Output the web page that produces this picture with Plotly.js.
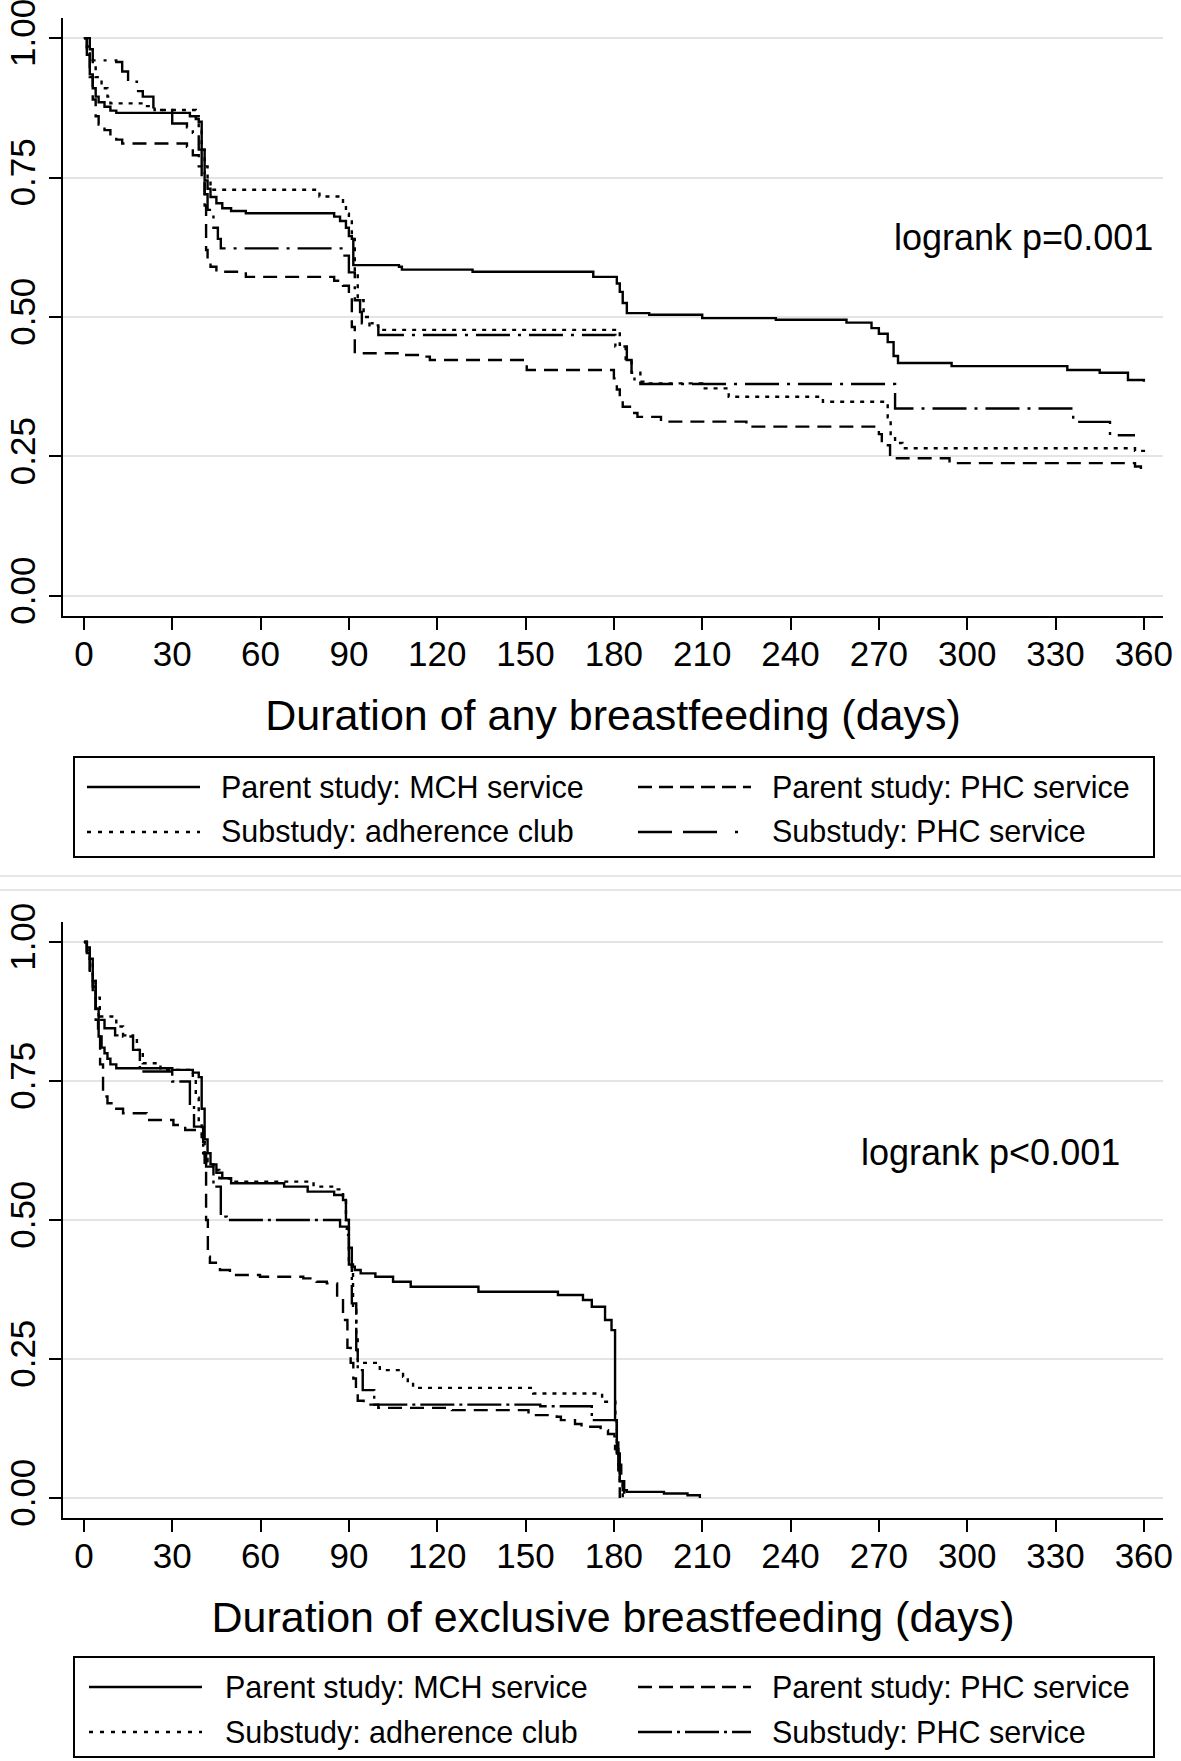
<!DOCTYPE html>
<html><head><meta charset="utf-8">
<script src="https://cdn.plot.ly/plotly-3.0.1.min.js"></script>
<style>html,body{margin:0;padding:0;background:#fff}#chart{width:1181px;height:1761px}</style>
</head><body><div id="chart"></div>
<script>
// ---------- data ----------
const seriesNames = ["Parent study: MCH service","Parent study: PHC service","Substudy: adherence club","Substudy: PHC service"];
const xTicks = [0,30,60,90,120,150,180,210,240,270,300,330,360];
const yTicks = [0,0.25,0.5,0.75,1];
const yTickText = ["0.00","0.25","0.50","0.75","1.00"];
const titleAny = "Duration of any breastfeeding (days)";
const titleExcl = "Duration of exclusive breastfeeding (days)";
const pAny = "logrank p=0.001";
const pExcl = "logrank p<0.001";

// Any breastfeeding
const anyMCH_t = [0,1,2,3,4,5,7,9,11,36,38,39,40,41,42,43,45,47,50,55,85,87,89,90,91,91.5,107,108,132,173,181,182,183,184.4,192,210,235,259,267.5,270,273,275,276.5,294.7,334,345,354.6,360];
const anyMCH_s = [1,0.97,0.935,0.91,0.895,0.885,0.877,0.87,0.866,0.86,0.855,0.85,0.80,0.745,0.73,0.715,0.704,0.695,0.69,0.686,0.68,0.672,0.66,0.645,0.64,0.593,0.59,0.585,0.581,0.572,0.56,0.545,0.525,0.507,0.504,0.498,0.495,0.49,0.48,0.47,0.455,0.43,0.4175,0.412,0.405,0.40,0.387,0.384];
const anyPPHC_t = [0,1,2,3,4,5,7,9,11,13,35,37,39,40,41,41.5,42,43,45,55,85,88,90,91,92,109,114,117.5,150.4,180,181,182,183,186,188,196,225,270,271,273.8,275.5,294,357,359,360];
const anyPPHC_s = [1,0.97,0.93,0.89,0.86,0.845,0.835,0.825,0.818,0.811,0.805,0.79,0.77,0.745,0.70,0.62,0.60,0.59,0.581,0.572,0.565,0.556,0.54,0.482,0.435,0.432,0.429,0.423,0.405,0.39,0.37,0.357,0.339,0.328,0.321,0.3125,0.3035,0.29,0.27,0.25,0.2467,0.238,0.232,0.226,0.222];
const anyAC_t = [0,1,2,3,4,6,8,9,20,24,38,39,40,41,42,43,44,80,88,89,90,91,92,93,95,97,100,182,184,186,189,190,210,219,251,273,274,275.5,278,357,360];
const anyAC_s = [1,0.985,0.965,0.95,0.93,0.91,0.895,0.883,0.878,0.871,0.86,0.84,0.80,0.77,0.745,0.735,0.728,0.716,0.70,0.685,0.676,0.64,0.58,0.53,0.50,0.485,0.477,0.45,0.42,0.40,0.384,0.381,0.372,0.357,0.348,0.32,0.29,0.274,0.2647,0.26,0.256];
const anySPHC_t = [0,2,3,11,13,15,18,20,23.6,30,35,37,39,40,41,42,44,45.5,46.5,88,90,92,93.8,94.4,100,180.5,184.4,186,187,189,275.5,336,348.5,357];
const anySPHC_s = [1,0.98,0.96,0.957,0.94,0.922,0.905,0.895,0.871,0.847,0.84,0.83,0.80,0.76,0.72,0.692,0.66,0.64,0.623,0.61,0.58,0.53,0.509,0.4887,0.4677,0.447,0.423,0.393,0.384,0.38,0.336,0.312,0.288,0.288];

// Exclusive breastfeeding
const exMCH_t = [0,1,2,3,4,5,6,7,8,9,11,30,37,39,40,41,42,43,45,47,50,68,76,85,88,89,90,91,92,94,99,105,111,134,161,169.5,172.5,177,179.2,180.4,181,182,183,184.4,197,205,209.2];
const exMCH_s = [1,0.99,0.97,0.93,0.88,0.83,0.81,0.80,0.79,0.78,0.773,0.77,0.765,0.757,0.70,0.645,0.62,0.60,0.585,0.575,0.566,0.56,0.551,0.545,0.536,0.50,0.45,0.416,0.41,0.404,0.398,0.389,0.38,0.371,0.365,0.356,0.344,0.32,0.302,0.14,0.08,0.03,0.014,0.011,0.008,0.005,0];
const exPPHC_t = [0,1,2,3,4,4.8,5.5,6.5,8,10,13.3,21.3,30.4,34.4,40,40.5,41,41.5,42.1,42.8,46.2,49.6,59.8,74.5,79,82.5,86,88,89.5,90.6,91.5,92.4,93,95,100,125,151,160.6,162,166.8,169,175.5,178,180.2,180.4,181.5,182.5,183.5];
const exPPHC_s = [1,0.98,0.94,0.90,0.86,0.83,0.78,0.722,0.71,0.70,0.692,0.68,0.671,0.662,0.655,0.64,0.603,0.50,0.434,0.423,0.41,0.401,0.398,0.395,0.389,0.386,0.36,0.32,0.27,0.243,0.215,0.194,0.175,0.168,0.162,0.158,0.149,0.146,0.14,0.133,0.128,0.122,0.115,0.104,0.088,0.06,0.03,0];
const exAC_t = [0,1,2,3,4,5.4,11,13.3,18,20,26,37,38,39,40,41,42,44,46,49.6,78,84.7,88,89,90,91.4,92.5,93,100.5,108.4,110,111.8,152.6,176,180.5,181,182,183];
const exAC_s = [1,0.985,0.96,0.93,0.9,0.866,0.848,0.83,0.806,0.782,0.77,0.755,0.72,0.68,0.64,0.61,0.60,0.59,0.575,0.569,0.56,0.555,0.54,0.50,0.42,0.338,0.29,0.243,0.23,0.218,0.205,0.198,0.188,0.173,0.15,0.08,0.03,0];
const exSPHC_t = [0,1,2,3,4,5,7,10.6,16.7,19,30,36,37.4,40.5,41.5,44,46.5,48.5,87,89.3,90,91,92.5,93,94.7,98.6,155,172.5,181,181.5,182];
const exSPHC_s = [1,0.98,0.95,0.92,0.88,0.86,0.845,0.832,0.806,0.767,0.749,0.703,0.668,0.62,0.596,0.56,0.506,0.50,0.488,0.473,0.42,0.35,0.266,0.23,0.194,0.168,0.165,0.14,0.10,0.05,0];

// ---------- styles ----------
const W = 1181, H = 1761;
const FONT = "Liberation Sans, Arial, Helvetica, sans-serif";
const LW = 2.4;
const dashTop = ["solid","14px,8px","4px,6px","34px,8px,3px,8px"];
const dashBot = ["solid","14px,8px","4px,6px","34px,5px,3px,5px"];
const legDashTop = ["solid","14px,7px","4px,7px","34px,11px,34px,18px,3px,200px"];
const legDashBot = ["solid","14px,7px","4px,7px","34px,5px,3px,5px"];
const P = x => x / W;
const Q = y => 1 - y / H;

function tr(t, s, name, dash, xa, ya) {
  return {type:"scatter", mode:"lines", x:t, y:s, name:name, xaxis:xa, yaxis:ya,
    line:{shape:"hv", color:"#000", width:LW, dash:dash}, showlegend:false, hoverinfo:"skip"};
}
const data = [
  tr(anyMCH_t, anyMCH_s, seriesNames[0], dashTop[0], "x", "y"),
  tr(anyPPHC_t, anyPPHC_s, seriesNames[1], dashTop[1], "x", "y"),
  tr(anyAC_t, anyAC_s, seriesNames[2], dashTop[2], "x", "y"),
  tr(anySPHC_t, anySPHC_s, seriesNames[3], dashTop[3], "x", "y"),
  tr(exMCH_t, exMCH_s, seriesNames[0], dashBot[0], "x2", "y2"),
  tr(exPPHC_t, exPPHC_s, seriesNames[1], dashBot[1], "x2", "y2"),
  tr(exAC_t, exAC_s, seriesNames[2], dashBot[2], "x2", "y2"),
  tr(exSPHC_t, exSPHC_s, seriesNames[3], dashBot[3], "x2", "y2")
];

function xAxis(title, anchor) {
  return {domain:[P(63), P(1163)], range:[-7.1, 366.5], anchor:anchor,
    tickmode:"array", tickvals:xTicks, ticktext:xTicks.map(String),
    ticks:"outside", ticklen:12, tickwidth:2, tickcolor:"#000", ticklabelstandoff:-6,
    showline:true, linewidth:2, linecolor:"#000", showgrid:false, zeroline:false,
    tickfont:{family:FONT, size:35, color:"#000"},
    title:{text:title, font:{family:FONT, size:43, color:"#000"}, standoff:28},
    fixedrange:true};
}
function yAxis(dom, anchor) {
  return {domain:dom, range:[-0.036, 1.036], anchor:anchor,
    tickmode:"array", tickvals:yTicks, ticktext:yTickText, tickangle:-90,
    ticklabeloverflow:"allow",
    ticks:"outside", ticklen:12, tickwidth:2, tickcolor:"#000",
    showline:true, linewidth:2, linecolor:"#000",
    showgrid:true, gridcolor:"#e4e4e4", gridwidth:2, zeroline:false,
    tickfont:{family:FONT, size:35, color:"#000"}, fixedrange:true};
}

const shapes = [];
const annotations = [];
// graph-region separator lines
[876, 890].forEach(y => shapes.push({type:"line", xref:"paper", yref:"paper", x0:0, x1:1, y0:Q(y), y1:Q(y), line:{color:"#e6e6e6", width:2}}));

function legend(top, bottom, rows, sx1, tx1, legDash) {
  shapes.push({type:"rect", xref:"paper", yref:"paper", x0:P(74), x1:P(1154), y0:Q(bottom), y1:Q(top), line:{color:"#000", width:2}, fillcolor:"rgba(0,0,0,0)"});
  const cells = [[0, sx1, tx1, rows[0]], [1, 638, 770, rows[0]], [2, sx1, tx1, rows[1]], [3, 638, 770, rows[1]]];
  cells.forEach(([i, sx, tx, ry]) => {
    shapes.push({type:"line", xref:"paper", yref:"paper", x0:P(sx), x1:P(sx + 113), y0:Q(ry), y1:Q(ry), line:{color:"#000", width:LW, dash:legDash[i]}});
    annotations.push({xref:"paper", yref:"paper", x:P(tx), y:Q(ry), xanchor:"left", yanchor:"middle", showarrow:false, text:seriesNames[i], font:{family:FONT, size:30.5, color:"#000"}});
  });
}
legend(757, 857, [787, 832], 87, 219, legDashTop);
legend(1657, 1757, [1687, 1732], 89, 223, legDashBot);

annotations.push({xref:"x", yref:"y", x:363.8, y:0.642, xanchor:"right", yanchor:"middle", showarrow:false, text:pAny, font:{family:FONT, size:36, color:"#000"}});
annotations.push({xref:"x2", yref:"y2", x:352.6, y:0.622, xanchor:"right", yanchor:"middle", showarrow:false, text:pExcl, font:{family:FONT, size:36, color:"#000"}});

const layout = {
  width:W, height:H, margin:{l:0, r:0, t:0, b:0, autoexpand:false},
  paper_bgcolor:"#fff", plot_bgcolor:"#fff", showlegend:false,
  font:{family:FONT, color:"#000"},
  xaxis: xAxis(titleAny, "y"),
  yaxis: yAxis([Q(616), Q(18)], "x"),
  xaxis2: xAxis(titleExcl, "y2"),
  yaxis2: yAxis([Q(1518), Q(922)], "x2"),
  shapes: shapes, annotations: annotations
};
Plotly.newPlot("chart", data, layout, {staticPlot:true, displayModeBar:false});
</script></body></html>
